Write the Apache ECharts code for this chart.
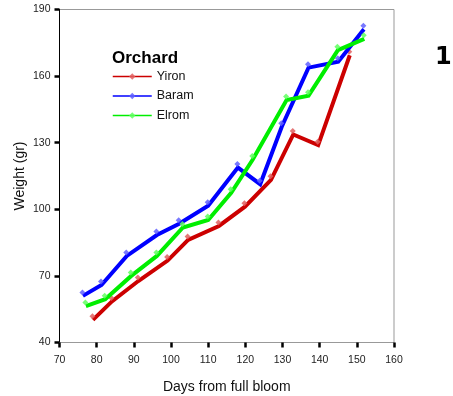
<!DOCTYPE html>
<html>
<head>
<meta charset="utf-8">
<script src="https://cdn.jsdelivr.net/npm/echarts@6/dist/echarts.min.js"></script>
<style>
html,body{margin:0;padding:0;background:#fff;}
#chart{width:453px;height:396px;}
</style>
</head>
<body>
<div id="chart"></div>
<script>
var seriesNames = ['Yiron', 'Baram', 'Elrom'];
var yironData = [[79.0,50.2],[84.1,58.5],[91.2,67.7],[99.1,76.9],[104.6,86.2],[112.9,92.5],[119.9,101.2],[126.9,113.3],[132.9,133.7],[139.6,128.9],[148.1,169.4]];
var baramData = [[76.3,61.0],[81.3,65.9],[88.1,79.0],[96.2,88.4],[102.2,93.5],[110.0,101.6],[118.0,118.8],[124.0,111.3],[129.8,137.2],[137.0,163.8],[145.0,166.5],[151.9,181.1]];
var elromData = [[77.1,56.4],[82.3,59.5],[89.3,70.0],[96.2,79.0],[103.2,91.8],[110.0,95.2],[116.2,107.4],[122.0,122.4],[131.1,149.2],[137.0,151.2],[144.9,171.7],[152.0,176.8]];
var xTicks = [70,80,90,100,110,120,130,140,150,160];
var yTicks = [40,70,100,130,160,190];
var legendTitle = 'Orchard';
var xName = 'Days from full bloom';
var yName = 'Weight (gr)';
var panelLabel = '1';

var lineColors = ['#cc0000', '#0000ff', '#00ee00'];
var markColors = ['#e06060', '#6060ff', '#60ff60'];
var allData = [yironData, baramData, elromData];

var chart = echarts.init(document.getElementById('chart'), null, {renderer: 'canvas'});

var series = allData.map(function (d, i) {
  return {
    name: seriesNames[i],
    type: 'line',
    data: d,
    symbol: 'diamond',
    symbolSize: 6,
    symbolOffset: [-0.5, -3.5],
    showAllSymbol: true,
    lineStyle: {color: lineColors[i], width: 4, join: 'miter'},
    itemStyle: {color: markColors[i], opacity: 0.85},
    emphasis: {disabled: true},
    z: 2 + i
  };
});

var option = {
  animation: false,
  backgroundColor: '#ffffff',
  textStyle: {fontFamily: 'Liberation Sans, Arial, sans-serif'},
  grid: {
    left: 59.5, right: 59, top: 9.5, bottom: 53.5,
    containLabel: false, outerBoundsMode: 'none',
    show: true, borderColor: '#999999', borderWidth: 1, backgroundColor: 'transparent'
  },
  legend: {
    orient: 'vertical',
    left: 107, top: 65,
    itemWidth: 39, itemHeight: 8, itemGap: 6.5,
    data: seriesNames,
    lineStyle: {width: 1.5},
    textStyle: {fontSize: 12.5, color: '#111'},
    selectedMode: false
  },
  graphic: [
    {type: 'text', left: 112, top: 50, style: {text: legendTitle, font: 'bold 17px Liberation Sans, Arial, sans-serif', fill: '#000'}},
    {type: 'text', left: 435, top: 46, style: {text: panelLabel, font: 'bold 24px DejaVu Sans, sans-serif', fill: '#000'}}
  ],
  xAxis: {
    type: 'value', min: xTicks[0], max: xTicks[xTicks.length - 1], interval: 10,
    name: xName, nameLocation: 'middle', nameGap: 38, nameMoveOverlap: false,
    nameTextStyle: {fontSize: 14, color: '#111'},
    axisLine: {show: true, onZero: false, lineStyle: {color: '#999999', width: 1}},
    axisTick: {show: true, length: 5, lineStyle: {color: '#000', width: 2.5}},
    axisLabel: {fontSize: 10.5, color: '#222', margin: 12},
    splitLine: {show: false}
  },
  yAxis: {
    type: 'value', min: yTicks[0], max: yTicks[yTicks.length - 1], interval: 30,
    name: yName, nameLocation: 'middle', nameGap: 32, nameRotate: 90, nameMoveOverlap: false,
    nameTextStyle: {fontSize: 14, color: '#111'},
    axisLine: {show: true, onZero: false, lineStyle: {color: '#000', width: 1}},
    axisTick: {show: true, length: 5, lineStyle: {color: '#000', width: 2.5}},
    axisLabel: {fontSize: 10.5, color: '#222', margin: 9},
    splitLine: {show: false}
  },
  series: series
};
chart.setOption(option);
</script>
</body>
</html>
